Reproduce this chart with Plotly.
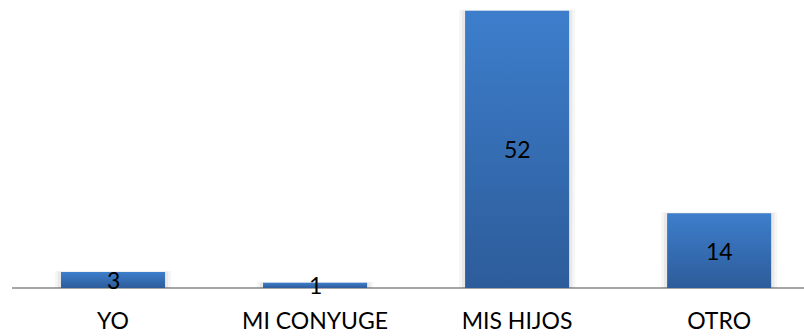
import plotly.graph_objects as go

# Respuestas por categoría
categorias = ["YO", "MI CONYUGE", "MIS HIJOS", "OTRO"]
valores = [3, 1, 52, 14]

ancho_barra = 0.515
color_arriba = "#3D7ECC"
color_abajo = "#2D5C9A"
fuente = "Lato"

fig = go.Figure()

for i, v in enumerate(valores):
    x0, x1 = i - ancho_barra / 2, i + ancho_barra / 2
    # sombra suave alrededor de la barra
    for pad, alpha in ((0.03, 0.035), (0.016, 0.05)):
        fig.add_trace(go.Scatter(
            x=[x0 - pad, x1 + pad, x1 + pad, x0 - pad, x0 - pad],
            y=[0, 0, v + pad * 6, v + pad * 6, 0],
            mode="lines", line=dict(width=0), fill="toself",
            fillcolor=f"rgba(0,0,0,{alpha})", hoverinfo="skip", showlegend=False,
        ))
    # barra con degradado vertical
    fig.add_trace(go.Scatter(
        x=[x0, x1, x1, x0, x0],
        y=[0, 0, v, v, 0],
        mode="lines", line=dict(width=0), fill="toself",
        fillgradient=dict(type="vertical",
                          colorscale=[[0, color_abajo], [1, color_arriba]]),
        name=categorias[i], showlegend=False,
    ))
    fig.add_annotation(x=i, y=v / 2, text=str(v), showarrow=False,
                       xanchor="center", yanchor="middle",
                       font=dict(family=fuente, size=23, color="#000000"))

fig.update_layout(
    width=804, height=336,
    margin=dict(l=12, r=0, t=0, b=48),
    paper_bgcolor="white", plot_bgcolor="white",
    showlegend=False,
    xaxis=dict(range=[-0.5, 3.42], tickmode="array",
               tickvals=list(range(len(categorias))), ticktext=categorias,
               showgrid=False, zeroline=False, showline=False,
               ticks="", ticklabelstandoff=17,
               tickfont=dict(family=fuente, size=23, color="#000000"),
               fixedrange=True),
    yaxis=dict(range=[0, 54], showgrid=False, zeroline=True,
               zerolinecolor="#A6A6A6", zerolinewidth=2,
               showticklabels=False, ticks="", showline=False, fixedrange=True),
)

fig.write_html("out.html")
